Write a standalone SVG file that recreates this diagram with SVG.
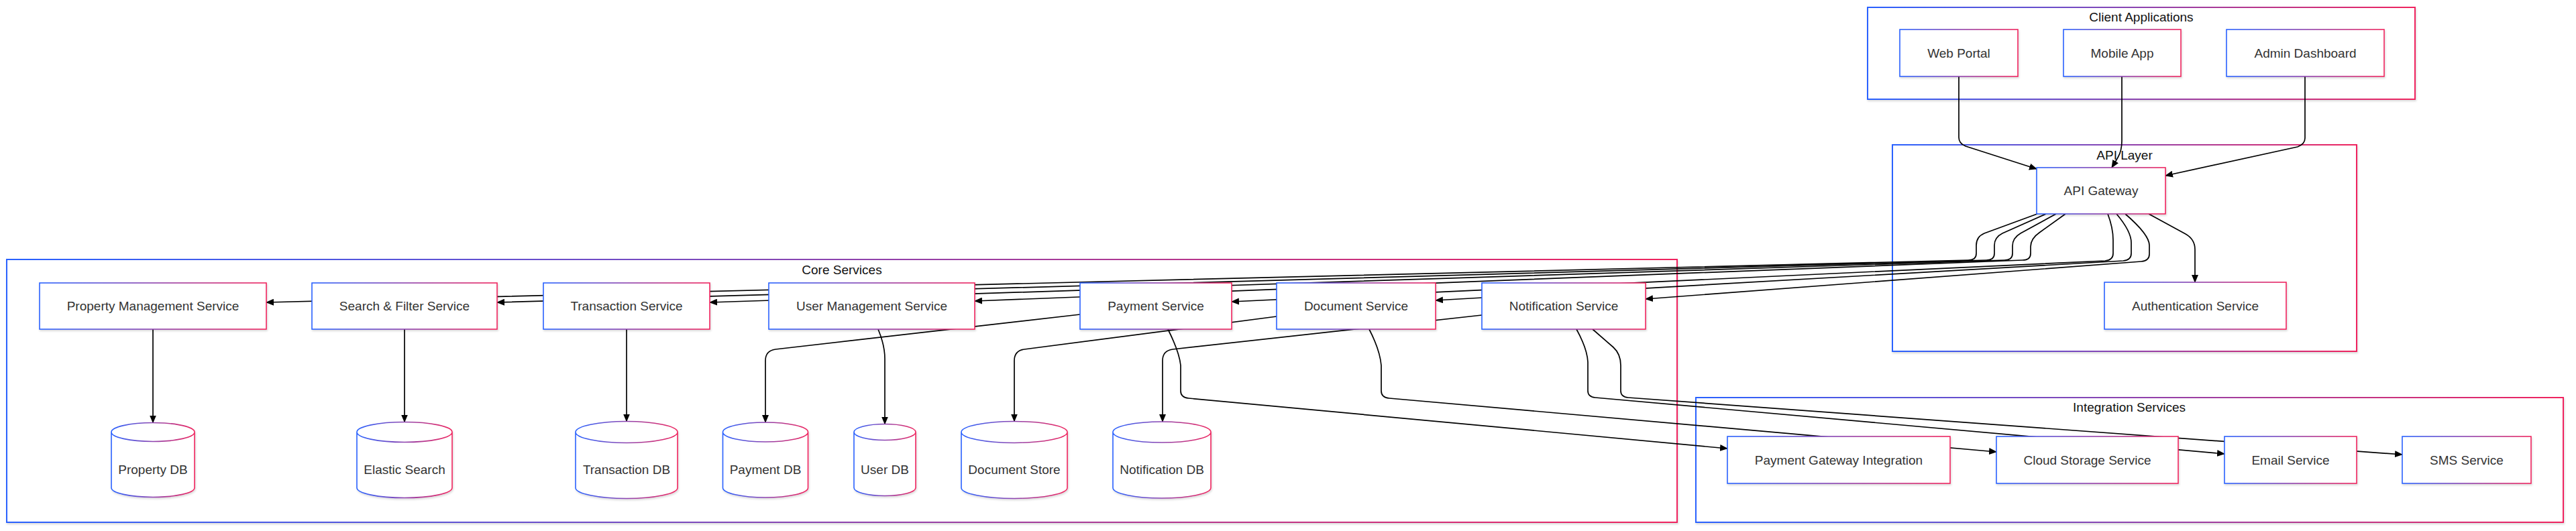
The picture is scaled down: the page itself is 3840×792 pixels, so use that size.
<svg xmlns="http://www.w3.org/2000/svg" width="3840" height="792" viewBox="0 0 3840 792">
<defs>
<linearGradient id="g" x1="0" y1="0" x2="1" y2="0">
<stop offset="0" stop-color="#2962ff"/>
<stop offset="1" stop-color="#f0245e"/>
</linearGradient>
<filter id="sh" x="-5%" y="-10%" width="110%" height="130%">
<feDropShadow dx="1" dy="2" stdDeviation="1.5" flood-color="#000" flood-opacity="0.15"/>
</filter>
<marker id="arr" viewBox="0 0 12 10" refX="11" refY="5" markerWidth="12" markerHeight="10" markerUnits="userSpaceOnUse" orient="auto">
<path d="M0,0 L12,5 L0,10 z" fill="#000"/>
</marker>
<style>
.cl{fill:#fff;stroke:url(#g);stroke-width:2;filter:url(#sh)}
.nd{fill:#fff;stroke:url(#g);stroke-width:1.6;filter:url(#sh)}
.ct{font-family:"Liberation Sans",Arial,sans-serif;font-size:19px;fill:#111;text-anchor:middle;dominant-baseline:central}
.nt{font-family:"Liberation Sans",Arial,sans-serif;font-size:19px;fill:#333;text-anchor:middle;dominant-baseline:central}
.e{fill:none;stroke:#000;stroke-width:1.7;marker-end:url(#arr)}
</style>
</defs>
<rect width="3840" height="792" fill="#fff"/>

<g id="cluster-client">
<rect class="cl" x="2784" y="11" width="816" height="137"/>
<text class="ct" x="3192" y="25">Client Applications</text>
</g>
<g id="cluster-api">
<rect class="cl" x="2821" y="216" width="692" height="308"/>
<text class="ct" x="3167" y="231">API Layer</text>
</g>
<g id="cluster-core">
<rect class="cl" x="10" y="387" width="2490" height="392"/>
<text class="ct" x="1255" y="402">Core Services</text>
</g>
<g id="cluster-integration">
<rect class="cl" x="2528" y="593" width="1293" height="186"/>
<text class="ct" x="3174" y="607">Integration Services</text>
</g>

<g id="connectors">
<path class="e" d="M2920,114 L2920,205 Q2920,214 2930,218 L3036,252"/>
<path class="e" d="M3163,114 L3163,210 Q3163,225 3157,235 L3148,250"/>
<path class="e" d="M3436,114 L3436,206 Q3436,215 3425,219 L3228,262"/>
<path class="e" d="M3203,319 L3258,349 Q3272,357 3272,372 L3272,421"/>
<path class="e" d="M3037,319 L2958,348 Q2946,353 2946,366 L2946,378 Q2946,388 2934,388 L397,451"/>
<path class="e" d="M3050,319 L2985,348 Q2973,354 2973,366 L2973,378 Q2973,388 2961,388 L741,451"/>
<path class="e" d="M3065,319 L3012,348 Q3000,355 3000,367 L3000,378 Q3000,388 2988,388 L1058,451"/>
<path class="e" d="M3079,319 L3040,347 Q3027,356 3027,368 L3027,378 Q3027,388 3015,388 L1453,449"/>
<path class="e" d="M3142,319 Q3150,340 3150,358 L3150,378 Q3150,388 3138,389 L1836,450"/>
<path class="e" d="M3155,319 Q3177,345 3177,362 L3177,378 Q3177,388 3165,389 L2140,448"/>
<path class="e" d="M3168,319 Q3204,350 3204,366 L3204,379 Q3204,389 3192,390 L2453,446"/>
<path class="e" d="M228,491 L228,630.5"/>
<path class="e" d="M603,491 L603,629.5"/>
<path class="e" d="M934,491 L934,628.5"/>
<path class="e" d="M1309,491 Q1319,515 1319,535 L1319,632.5"/>
<path class="e" d="M1610,469 L1156,521 Q1141,523 1141,538 L1141,630"/>
<path class="e" d="M1903,472 L1527,521 Q1512,523 1512,538 L1512,628.5"/>
<path class="e" d="M2209,470 L1748,521 Q1733,523 1733,538 L1733,629"/>
<path class="e" d="M1741,491 Q1758,525 1760,545 L1760,583 Q1760,593 1772,594 L2575,669"/>
<path class="e" d="M2041,491 Q2057,522 2059,545 L2059,583 Q2059,593 2071,594 L2976,674"/>
<path class="e" d="M2350,491 Q2366,520 2367,540 L2367,583 Q2367,592 2378,593 L3316,677"/>
<path class="e" d="M2374,491 L2405,518 Q2416,528 2416,545 L2416,583 Q2416,592 2427,593 L3581,678"/>
</g>

<g id="web-portal"><rect class="nd" x="2832" y="44" width="176" height="70"/><text class="nt" x="2920" y="79">Web Portal</text></g>
<g id="mobile-app"><rect class="nd" x="3076" y="44" width="175" height="70"/><text class="nt" x="3163.5" y="79">Mobile App</text></g>
<g id="admin-dashboard"><rect class="nd" x="3319" y="44" width="235" height="70"/><text class="nt" x="3436.5" y="79">Admin Dashboard</text></g>

<g id="api-gateway"><rect class="nd" x="3036" y="250" width="192" height="69"/><text class="nt" x="3132" y="284.5">API Gateway</text></g>
<g id="auth-service"><rect class="nd" x="3137" y="421" width="271" height="70"/><text class="nt" x="3272.5" y="456">Authentication Service</text></g>

<g id="property-management"><rect class="nd" x="59" y="422" width="338" height="69"/><text class="nt" x="228" y="456.5">Property Management Service</text></g>
<g id="search-filter"><rect class="nd" x="465" y="422" width="276" height="69"/><text class="nt" x="603" y="456.5">Search &amp; Filter Service</text></g>
<g id="transaction-service"><rect class="nd" x="810" y="422" width="248" height="69"/><text class="nt" x="934" y="456.5">Transaction Service</text></g>
<g id="user-management"><rect class="nd" x="1146" y="422" width="307" height="69"/><text class="nt" x="1299.5" y="456.5">User Management Service</text></g>
<g id="payment-service"><rect class="nd" x="1610" y="422" width="226" height="69"/><text class="nt" x="1723" y="456.5">Payment Service</text></g>
<g id="document-service"><rect class="nd" x="1903" y="422" width="237" height="69"/><text class="nt" x="2021.5" y="456.5">Document Service</text></g>
<g id="notification-service"><rect class="nd" x="2209" y="422" width="244" height="69"/><text class="nt" x="2331" y="456.5">Notification Service</text></g>

<g id="property-db"><path class="nd" d="M166,644.5 a62,14 0 0 0 124,0 a62,14 0 0 0 -124,0 l0,83 a62,14 0 0 0 124,0 l0,-83"/><text class="nt" x="228" y="700">Property DB</text></g>
<g id="elastic-search"><path class="nd" d="M532,644.5 a71,15 0 0 0 142,0 a71,15 0 0 0 -142,0 l0,83 a71,15 0 0 0 142,0 l0,-83"/><text class="nt" x="603" y="700">Elastic Search</text></g>
<g id="transaction-db"><path class="nd" d="M858,644.5 a76,16 0 0 0 152,0 a76,16 0 0 0 -152,0 l0,83 a76,16 0 0 0 152,0 l0,-83"/><text class="nt" x="934" y="700">Transaction DB</text></g>
<g id="payment-db"><path class="nd" d="M1077.5,644.5 a63.5,14.5 0 0 0 127,0 a63.5,14.5 0 0 0 -127,0 l0,83 a63.5,14.5 0 0 0 127,0 l0,-83"/><text class="nt" x="1141" y="700">Payment DB</text></g>
<g id="user-db"><path class="nd" d="M1273,644.5 a46,12 0 0 0 92,0 a46,12 0 0 0 -92,0 l0,83 a46,12 0 0 0 92,0 l0,-83"/><text class="nt" x="1319" y="700">User DB</text></g>
<g id="document-store"><path class="nd" d="M1433,644.5 a79,16 0 0 0 158,0 a79,16 0 0 0 -158,0 l0,83 a79,16 0 0 0 158,0 l0,-83"/><text class="nt" x="1512" y="700">Document Store</text></g>
<g id="notification-db"><path class="nd" d="M1659,644.5 a73,15.5 0 0 0 146,0 a73,15.5 0 0 0 -146,0 l0,83 a73,15.5 0 0 0 146,0 l0,-83"/><text class="nt" x="1732" y="700">Notification DB</text></g>

<g id="payment-gateway"><rect class="nd" x="2575" y="651" width="332" height="70"/><text class="nt" x="2741" y="686">Payment Gateway Integration</text></g>
<g id="cloud-storage"><rect class="nd" x="2976" y="651" width="271" height="70"/><text class="nt" x="3111.5" y="686">Cloud Storage Service</text></g>
<g id="email-service"><rect class="nd" x="3316" y="651" width="197" height="70"/><text class="nt" x="3414.5" y="686">Email Service</text></g>
<g id="sms-service"><rect class="nd" x="3581" y="651" width="192" height="70"/><text class="nt" x="3677" y="686">SMS Service</text></g>
</svg>
